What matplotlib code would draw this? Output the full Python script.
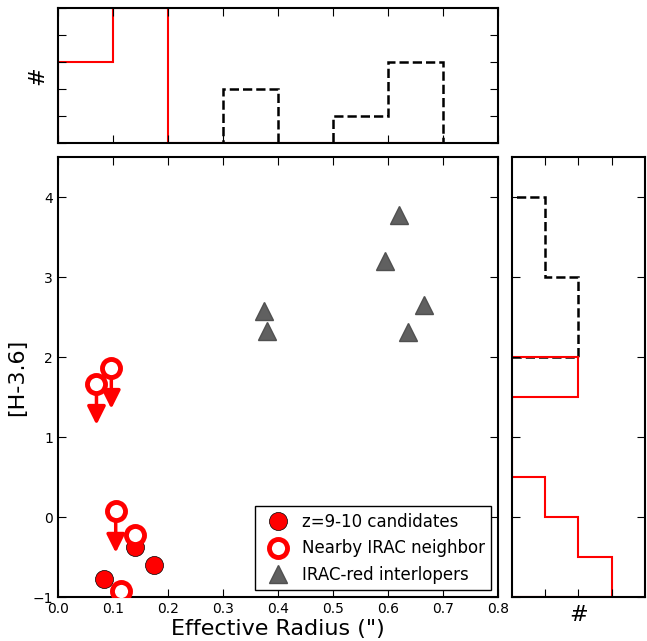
import numpy as np
import matplotlib.pyplot as plt

# z=9-10 candidates
cand_r = [0.083, 0.14, 0.175]
cand_c = [-0.78, -0.37, -0.6]
# nearby IRAC neighbors (open)
nb_r = [0.07, 0.097, 0.105, 0.14, 0.115]
nb_c = [1.67, 1.87, 0.08, -0.22, -0.92]
# upper limits (arrow start, arrow end)
lim_r = [0.07, 0.097, 0.105]
lim_c = [1.67, 1.87, 0.08]
lim_end = [1.12, 1.32, -0.48]
# IRAC-red interlopers
int_r = [0.375, 0.38, 0.595, 0.62, 0.637, 0.665]
int_c = [2.58, 2.33, 3.2, 3.78, 2.32, 2.65]

# histograms (edges, counts)
top_red_edges = [0.0, 0.1, 0.2, 0.3, 0.4, 0.5, 0.6, 0.7]
top_red_counts = [3, 5, 0, 0, 0, 0, 0]
top_blk_edges = [0.0, 0.1, 0.2, 0.3, 0.4, 0.5, 0.6, 0.7]
top_blk_counts = [0, 0, 0, 2, 0, 1, 3]
right_red_edges = [-1.0, -0.5, 0.0, 0.5, 1.0, 1.5, 2.0]
right_red_counts = [3, 2, 1, 0, 0, 2]
right_blk_edges = [2.0, 3.0, 4.0]
right_blk_counts = [2, 1]

plt.rcParams['xtick.direction'] = 'in'
plt.rcParams['ytick.direction'] = 'in'
plt.rcParams['xtick.top'] = True
plt.rcParams['ytick.right'] = True
plt.rcParams['axes.linewidth'] = 1.5

fig = plt.figure(figsize=(6.47, 6.41), dpi=100)
ax = fig.add_axes([0.0896, 0.0686, 0.680, 0.686])
axt = fig.add_axes([0.0896, 0.777, 0.680, 0.2106])
axr = fig.add_axes([0.791, 0.0686, 0.2056, 0.686])

for x0, y0, y1 in zip(lim_r, lim_c, lim_end):
    ax.annotate('', xy=(x0, y1), xytext=(x0, y0),
                arrowprops=dict(arrowstyle='-|>,head_width=0.55,head_length=1.1',
                                color='red', lw=2.5), zorder=2)
ax.plot(cand_r, cand_c, 'o', color='red', mec='k', mew=0.5, ms=13,
        label='z=9-10 candidates', zorder=3)
ax.plot(nb_r, nb_c, 'o', mfc='white', mec='red', mew=3.5, ms=13,
        label='Nearby IRAC neighbor', zorder=4)
ax.plot(int_r, int_c, '^', color='#606060', mec='#505050', ms=13,
        label='IRAC-red interlopers', zorder=3)
ax.set_xlim(0, 0.8)
ax.set_ylim(-1, 4.5)
ax.set_xticks(np.arange(0, 0.81, 0.1))
ax.set_yticks(range(-1, 5))
ax.set_xlabel('Effective Radius (")', fontsize=16, labelpad=2)
ax.set_ylabel('[H-3.6]', fontsize=16)
ax.tick_params(labelsize=10, length=6)
ax.legend(loc='lower right', fontsize=12, numpoints=1, fancybox=False,
          edgecolor='k', framealpha=1, handletextpad=0.4, borderaxespad=0.4)

axt.stairs(top_blk_counts, top_blk_edges, color='k', ls='--', lw=1.8)
axt.stairs(top_red_counts, top_red_edges, color='red', lw=1.5)
axt.set_xlim(0, 0.8)
axt.set_ylim(0, 5)
axt.set_xticks(np.arange(0, 0.81, 0.1))
axt.set_yticks(range(6))
axt.set_xticklabels([])
axt.set_yticklabels([])
axt.set_ylabel('#', fontsize=16)
axt.tick_params(length=6)

axr.stairs(right_blk_counts, right_blk_edges, orientation='horizontal',
           color='k', ls='--', lw=1.8)
axr.stairs(right_red_counts, right_red_edges, orientation='horizontal',
           color='red', lw=1.5)
axr.set_xlim(0, 4)
axr.set_ylim(-1, 4.5)
axr.set_xticks([1, 2, 3])
axr.set_yticks(range(-1, 5))
axr.set_xticklabels([])
axr.set_yticklabels([])
axr.set_xlabel('#', fontsize=16, labelpad=2)
axr.tick_params(length=6)

fig.savefig('out.png', dpi=100)
